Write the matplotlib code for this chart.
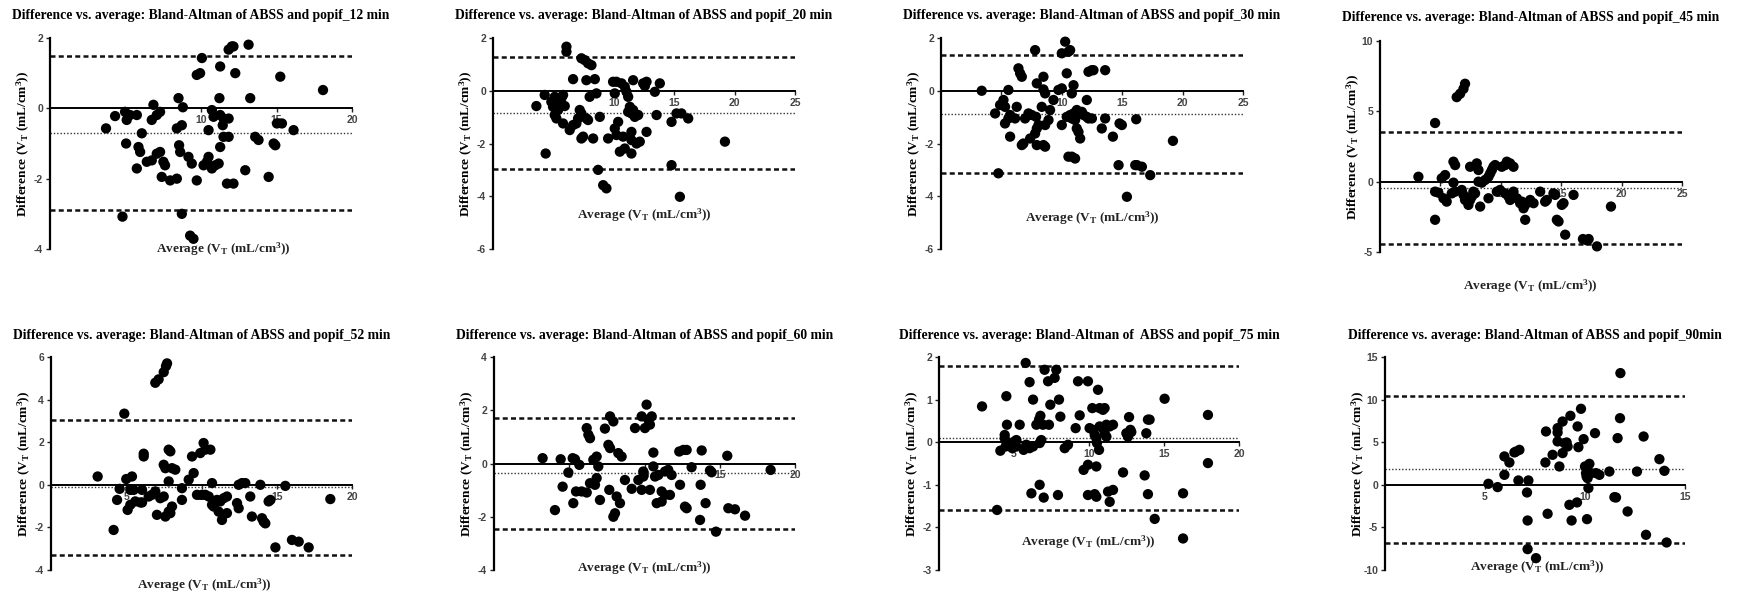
import matplotlib
matplotlib.use('Agg')
import matplotlib.pyplot as plt

plt.rcParams['axes.unicode_minus'] = False
plt.rcParams['mathtext.fontset'] = 'custom'
plt.rcParams['mathtext.rm'] = 'Liberation Serif:bold'
plt.rcParams['mathtext.default'] = 'regular'

# ---------------- data ----------------
titles = [
    "Difference vs. average: Bland-Altman of ABSS and popif_12 min",
    "Difference vs. average: Bland-Altman of ABSS and popif_20 min",
    "Difference vs. average: Bland-Altman of ABSS and popif_30 min",
    "Difference vs. average: Bland-Altman of ABSS and popif_45 min",
    "Difference vs. average: Bland-Altman of ABSS and popif_52 min",
    "Difference vs. average: Bland-Altman of ABSS and popif_60 min",
    "Difference vs. average: Bland-Altman of  ABSS and popif_75 min",
    "Difference vs. average: Bland-Altman of ABSS and popif_90min",
]

avg_12 = [3.71,4.31,4.97,5.08,5.3,5.75,5.04,4.8,5.75,5.86,5.97,6.08,6.41,6.74,7.07,7.29,6.85,6.74,7.07,7.29,7.51,7.62,7.4,7.96,8.4,8.51,8.8,8.4,8.73,8.55,8.62,8.73,9.17,9.39,9.28,9.5,9.72,9.72,9.94,10.06,10.17,10.39,10.5,10.72,10.83,10.5,10.72,10.94,11.17,11.27,11.22,11.27,11.49,11.44,11.83,11.27,11.49,11.83,11.72,12.15,11.83,12.04,12.15,12.27,12.93,13.15,13.26,13.59,13.81,14.48,14.81,14.92,15.03,15.36,15.25,16.13,18.08]
diff_12 = [-0.57,-0.22,-0.10,-0.33,-0.19,-0.19,-1.0,-3.08,-1.71,-1.1,-1.24,-0.71,-1.52,-1.48,-1.29,-1.24,0.10,-0.33,-0.19,-0.10,-1.52,-1.62,-1.95,-2.05,-2.0,0.29,0.03,-0.57,-0.48,-1.05,-1.24,-3.0,-1.38,-1.57,-3.62,-3.71,-2.05,0.95,1.0,1.43,-1.62,-1.52,-1.38,-0.05,-0.24,-0.62,-1.71,-1.62,-1.57,1.19,0.29,-0.19,-0.29,-0.48,-0.29,-1.1,-0.81,-0.81,-2.14,-2.14,1.67,1.76,1.76,1.0,-1.76,1.81,0.29,-0.81,-0.9,-1.95,-1.0,-1.05,-0.43,-0.43,0.9,-0.62,0.52]

avg_20 = [3.59,4.28,4.36,4.83,5.11,4.97,5.25,5.11,5.39,5.52,5.66,5.8,5.25,5.8,5.94,6.08,6.08,6.35,6.63,6.63,6.9,7.18,7.32,7.04,7.32,7.6,7.87,8.15,7.46,7.32,7.73,7.87,7.73,8.0,8.29,8.43,8.56,8.7,8.84,9.12,9.39,9.53,9.94,10.22,10.08,10.08,10.36,10.22,10.5,10.64,10.91,10.77,10.91,11.05,11.19,11.33,11.46,11.19,11.6,11.46,11.46,11.46,11.6,11.74,12.02,11.88,12.15,12.43,12.71,12.57,12.71,13.4,13.54,13.81,14.78,14.78,15.19,15.6,15.47,16.16,19.2]
diff_20 = [-0.58,-0.16,-2.38,-0.42,-0.23,-0.61,-0.35,-0.92,-0.73,-0.54,-0.29,-0.16,-1.05,-1.24,-0.58,1.67,1.48,-1.49,0.44,-1.3,-1.24,-0.73,-0.86,-1.05,1.23,1.16,1.04,0.97,-1.74,-1.81,-1.05,-1.11,0.40,-0.23,-1.81,0.44,-0.1,-3.0,-0.99,-3.58,-3.7,-1.81,0.34,0.34,-1.43,-0.1,-1.18,-1.68,-2.31,0.28,0.15,-1.74,-2.19,-0.04,-0.23,-0.61,-0.86,-0.8,-0.73,-1.56,-1.87,-2.38,0.40,-0.99,-0.92,-2.0,-1.93,0.28,0.34,0.18,-1.56,-0.04,-0.92,0.28,-1.18,-2.82,-0.86,-0.86,-4.02,-1.05,-1.93]

avg_30 = [3.37,4.48,4.75,4.89,5.17,5.3,5.3,5.58,5.72,5.58,5.72,6.13,6.41,6.55,6.69,6.27,6.69,6.82,6.96,7.24,7.51,7.38,7.79,7.79,7.93,8.07,7.87,7.93,8.48,8.62,7.93,8.34,8.48,8.48,8.62,8.62,8.9,9.03,9.31,9.72,10.0,10.0,10.0,10.28,10.55,10.69,10.41,10.41,10.69,10.83,10.97,10.55,10.83,11.1,10.83,10.97,11.1,11.24,11.38,11.24,11.52,11.66,11.8,12.07,11.52,12.07,12.21,12.49,12.62,12.21,12.49,13.31,13.59,13.59,14.23,14.7,14.78,14.97,15.39,16.08,16.22,16.63,16.16,17.32,19.2]
diff_30 = [0.0,-0.86,-3.13,-0.54,-0.35,-0.61,-1.24,-1.05,-0.92,0.03,-1.74,-1.05,0.85,0.66,0.53,-0.61,-2.06,-2.0,-1.05,-0.86,-0.92,-1.81,1.54,-1.62,-1.43,-1.3,-0.99,-2.06,-2.06,-2.12,0.28,-0.61,0.53,0.05,-0.1,-1.3,-1.11,-0.73,-0.35,0.03,0.09,-1.3,1.42,1.86,1.48,1.54,0.66,-0.99,-0.92,-1.05,-0.86,-2.5,-2.5,-2.57,-0.1,0.21,-1.11,-1.43,-1.56,-0.73,-0.86,-0.8,-0.92,-0.99,-1.81,-0.35,0.72,0.78,0.78,-1.05,-1.05,-1.43,-1.05,0.78,-1.74,-2.82,-1.24,-1.3,-4.02,-2.82,-2.82,-2.88,-1.08,-3.2,-1.9]

avg_45 = [3.18,4.56,4.56,4.83,4.56,5.11,5.39,5.25,5.52,6.08,6.08,6.22,5.94,6.22,6.35,6.63,6.91,7.04,6.77,6.91,7.04,7.32,7.46,7.6,7.46,7.73,7.87,8.01,8.15,8.15,8.29,8.43,8.7,8.98,9.12,9.26,9.39,9.53,8.98,9.67,9.94,10.08,10.36,10.5,10.77,11.05,10.36,10.64,10.77,11.05,11.33,11.6,11.88,11.74,12.02,12.02,12.43,12.71,13.26,13.67,13.81,14.36,14.5,14.64,14.78,15.05,15.19,15.33,16.02,16.8,17.13,17.27,17.96,19.12]
diff_45 = [0.35,4.17,-0.71,-0.78,-2.71,0.24,0.47,-1.18,-1.42,-0.07,1.42,1.18,-0.83,-0.71,6.01,6.25,6.6,6.96,-0.59,-0.94,-1.3,-1.65,-1.3,-1.06,1.06,-0.71,-0.83,1.3,0.83,0.0,-1.77,-0.07,0.12,0.35,0.59,0.83,1.06,1.18,-1.18,-0.71,-0.59,1.06,1.18,1.42,1.3,1.06,-0.83,-1.06,-1.3,-0.71,-1.18,-1.53,-1.89,-1.42,-1.65,-2.71,-1.3,-1.53,-0.71,-1.42,-1.3,-0.83,-0.94,-2.71,-2.83,-1.65,-1.53,-3.77,-0.94,-4.08,-4.17,-4.08,-4.6,-1.77]

avg_52 = [3.1,4.16,4.39,4.56,4.87,5.0,5.38,5.09,5.27,5.27,5.49,5.6,5.94,6.16,6.16,6.05,6.05,6.49,6.71,6.93,6.93,7.15,7.49,7.64,7.71,7.04,7.6,7.26,7.49,7.49,7.6,7.82,7.93,7.82,7.82,8.04,7.93,8.04,8.26,8.7,8.7,9.15,9.37,9.48,9.7,10.03,9.92,10.14,10.25,10.59,10.25,10.48,10.7,10.7,10.81,11.03,11.25,11.47,11.69,11.14,11.36,11.69,12.36,12.47,12.47,12.69,12.91,13.24,13.35,13.91,14.02,14.13,14.24,14.46,14.58,14.91,15.57,16.01,16.46,17.12,18.56]
diff_52 = [0.39,-2.12,-0.71,-0.19,3.34,0.27,0.39,-1.18,-0.94,-0.24,-0.24,-0.78,-0.83,1.33,1.46,-0.24,-0.83,-0.55,-0.47,-0.31,4.79,4.95,5.29,5.57,5.7,-1.41,-1.49,-0.63,-0.55,0.94,0.78,1.65,1.57,0.16,-1.26,-1.02,-1.33,0.78,0.71,-0.16,-0.71,0.24,1.33,0.55,-0.47,-0.47,1.49,1.96,1.65,1.65,-0.47,-0.55,0.08,-0.94,-1.02,-0.71,-0.78,-0.63,-0.55,-1.26,-1.65,-1.33,-0.86,-1.1,0.0,0.08,0.08,-0.55,-1.49,0.0,-1.57,-1.73,-1.81,-0.78,-0.71,-2.94,-0.05,-2.59,-2.67,-2.94,-0.67]

avg_60 = [3.23,4.05,4.43,4.56,4.94,5.23,5.38,5.27,5.45,5.67,5.82,6.16,6.38,6.16,6.27,6.38,6.6,6.82,6.71,6.82,6.93,7.04,7.37,7.6,7.71,7.66,7.71,7.93,7.93,8.04,8.15,8.37,8.26,8.48,8.7,9.15,9.37,9.59,9.81,10.03,10.14,10.25,10.48,10.36,9.81,10.36,9.92,9.92,10.59,10.59,10.7,10.92,10.81,11.14,11.14,11.36,11.69,11.36,11.58,11.8,12.36,12.31,12.58,12.8,12.69,12.8,13.13,13.69,13.73,13.8,14.06,14.35,14.46,14.75,15.5,15.57,16.01,16.68,18.38]
diff_60 = [0.2,-1.75,0.16,-0.87,-0.34,0.2,0.16,-1.49,-1.05,-0.05,-1.05,-1.09,-0.74,1.33,1.08,0.95,0.14,0.26,-0.8,-0.55,-0.11,-1.37,1.31,0.7,0.58,-0.99,1.77,1.58,-2.0,-1.87,-1.24,-1.49,0.39,0.26,-0.62,-0.95,1.33,-0.62,1.77,1.33,2.21,1.65,1.77,1.46,-0.99,-0.99,-0.3,-0.49,0.41,-0.11,-0.49,-0.43,-1.49,-1.43,-1.05,-1.18,-1.18,-0.3,-0.24,-0.43,-0.8,0.45,0.51,0.51,-1.62,-1.68,-0.14,-2.12,-0.8,0.49,-1.49,-0.26,-0.33,-2.56,0.29,-1.68,-1.72,-1.96,-0.24]

avg_75 = [2.87,3.87,4.09,4.38,4.53,4.49,4.38,4.6,4.82,4.89,5.04,5.16,4.44,5.16,5.38,5.64,5.82,6.04,6.27,5.78,6.04,6.16,6.27,6.49,6.67,6.76,6.93,6.71,6.82,6.71,6.98,7.04,7.27,7.33,7.42,7.71,7.82,7.93,8.0,8.09,8.38,8.6,9.11,9.27,9.38,9.64,9.93,9.93,9.93,10.38,10.49,10.04,10.27,10.38,10.49,10.53,10.22,10.49,10.6,10.67,10.71,10.93,11.04,10.71,10.93,11.04,11.16,11.38,11.6,11.16,11.27,11.38,11.6,12.27,12.49,12.6,12.76,12.82,12.67,13.71,13.82,13.93,14.04,13.93,14.38,15.04,16.27,16.27,17.93,17.93]
diff_75 = [0.84,-1.59,-0.2,0.17,0.41,1.08,0.09,-0.02,-0.06,-0.14,0.02,-0.1,-0.1,0.05,0.41,-0.18,-0.06,-0.14,-0.1,1.86,1.41,-1.2,1.0,0.41,0.53,0.62,0.41,-0.02,0.05,-1.0,-1.3,1.7,1.43,0.41,0.88,1.51,1.7,-1.24,1.0,0.6,-0.14,-0.06,0.33,1.43,0.63,-0.65,-0.53,1.43,-1.24,-1.22,-1.28,0.33,0.29,0.17,0.09,-0.02,0.8,-0.57,1.23,-0.18,0.8,0.76,0.8,0.37,0.33,0.21,0.41,0.37,0.41,0.13,-1.16,-1.4,-1.12,-0.71,0.21,0.13,0.29,0.24,0.59,-0.78,0.21,0.53,0.53,-1.22,-1.8,1.02,-1.2,-2.26,0.64,-0.49]

avg_90 = [5.17,5.63,5.97,5.97,6.22,6.47,6.72,6.55,6.67,7.1,7.13,7.17,7.13,7.55,8.02,8.05,8.13,8.38,8.63,8.63,8.72,8.63,8.88,8.97,8.88,9.13,9.08,9.22,9.27,9.33,9.6,9.63,9.67,9.8,9.93,10.0,10.05,10.08,10.13,10.1,10.17,10.22,10.3,10.5,10.55,10.72,11.22,11.47,11.55,11.63,11.75,11.77,12.13,12.6,12.93,13.05,13.72,13.97,14.08]
diff_90 = [0.12,-0.27,1.17,3.33,2.62,3.8,4.1,3.9,0.51,-0.9,-4.19,0.51,-7.55,-8.61,2.62,6.26,-3.4,3.52,6.65,6.14,2.15,5.09,7.43,4.89,3.72,4.5,4.97,-2.35,8.1,-4.19,-2.07,6.85,4.42,8.92,5.36,2.15,1.37,0.98,0.78,-4.03,-0.39,2.46,1.37,6.06,1.37,1.17,1.56,-1.45,-1.49,5.48,7.82,13.11,-3.13,1.56,5.67,-5.87,3.01,1.64,-6.77]

averages = [avg_12, avg_20, avg_30, avg_45, avg_52, avg_60, avg_75, avg_90]
differences = [diff_12, diff_20, diff_30, diff_45, diff_52, diff_60, diff_75, diff_90]

upper_loa = [1.5, 1.29, 1.35, 3.54, 3.06, 1.71, 1.8, 10.45]
mean_bias = [-0.71, -0.86, -0.88, -0.47, -0.11, -0.36, 0.1, 1.84]
lower_loa = [-2.9, -2.98, -3.13, -4.43, -3.3, -2.47, -1.58, -6.85]

x_max = [20, 25, 25, 25, 20, 20, 20, 15]
y_range = [(-4, 2), (-6, 2), (-6, 2), (-5, 10), (-4, 6), (-4, 4), (-3, 2), (-10, 15)]
y_step = [2, 2, 2, 5, 2, 2, 1, 5]

# ---------------- layout (pixels) ----------------
W, H = 1739, 598
boxes = [  # left, right, top, bottom
    (50, 352, 38, 249), (493, 795, 38, 249), (941, 1243, 38, 249), (1380, 1682, 41, 252),
    (51, 352, 357, 570), (494, 795, 357, 570), (939, 1239, 357, 570), (1385, 1685, 357, 570),
]
title_y = [15, 15, 15, 17, 335, 335, 335, 335]
xlab_pos = [(223, 249), (644, 215), (1092, 218), (1530, 286),
            (204, 585), (644, 568), (1088, 542), (1537, 567)]

fig = plt.figure(figsize=(W / 100, H / 100), dpi=100)
serif = 'Liberation Serif'
ylab = r'Difference (V$_\mathregular{T}$ (mL/cm$^\mathregular{3}$))'
xlab = r'Average (V$_\mathregular{T}$ (mL/cm$^\mathregular{3}$))'

for i in range(8):
    l, r, t, b = boxes[i]
    ax = fig.add_axes([l / W, 1 - b / H, (r - l) / W, (b - t) / H])
    ax.set_xlim(0, x_max[i])
    ax.set_ylim(*y_range[i])
    ax.patch.set_alpha(0)
    for s in ['top', 'right']:
        ax.spines[s].set_visible(False)
    ax.spines['left'].set_linewidth(1.6)
    ax.spines['bottom'].set_position(('data', 0))
    ax.spines['bottom'].set_linewidth(1.4)
    xt = list(range(5, x_max[i] + 1, 5))
    ax.set_xticks(xt)
    ax.set_xticklabels([str(v) for v in xt])
    y0, y1 = y_range[i]
    yt = list(range(y0, y1 + 1, y_step[i]))
    ax.set_yticks(yt)
    ax.set_yticklabels([str(v) for v in yt])
    ax.tick_params(axis='both', length=3, width=1.0, labelsize=7.5, colors='#222222', pad=2)
    for lab in ax.get_xticklabels() + ax.get_yticklabels():
        lab.set_fontweight('bold')
        lab.set_fontfamily('Liberation Sans')
        lab.set_color('#444444')

    ax.axhline(upper_loa[i], color='#111111', lw=1.8, dashes=(2.0, 1.3), zorder=2)
    ax.axhline(lower_loa[i], color='#111111', lw=1.8, dashes=(2.0, 1.3), zorder=2)
    ax.axhline(mean_bias[i], color='#333333', lw=1.0, dashes=(1.0, 1.4), zorder=2)

    ax.scatter(averages[i], differences[i], s=55, color='black', edgecolors='none',
               zorder=3, clip_on=False)

    cx = (l + r) / 2
    fig.text(cx / W, 1 - title_y[i] / H, titles[i], ha='center', va='center',
             fontsize=9.8, fontweight='bold', family=serif)
    fig.text((l - 27) / W, 1 - ((t + b) / 2) / H, ylab, rotation=90, ha='center',
             va='center', fontsize=9.5, fontweight='bold', family=serif)
    fig.text(xlab_pos[i][0] / W, 1 - xlab_pos[i][1] / H, xlab, ha='center', va='center',
             fontsize=9.5, fontweight='bold', family=serif, color='#222222')

fig.savefig('out.png', dpi=100, facecolor='white')
